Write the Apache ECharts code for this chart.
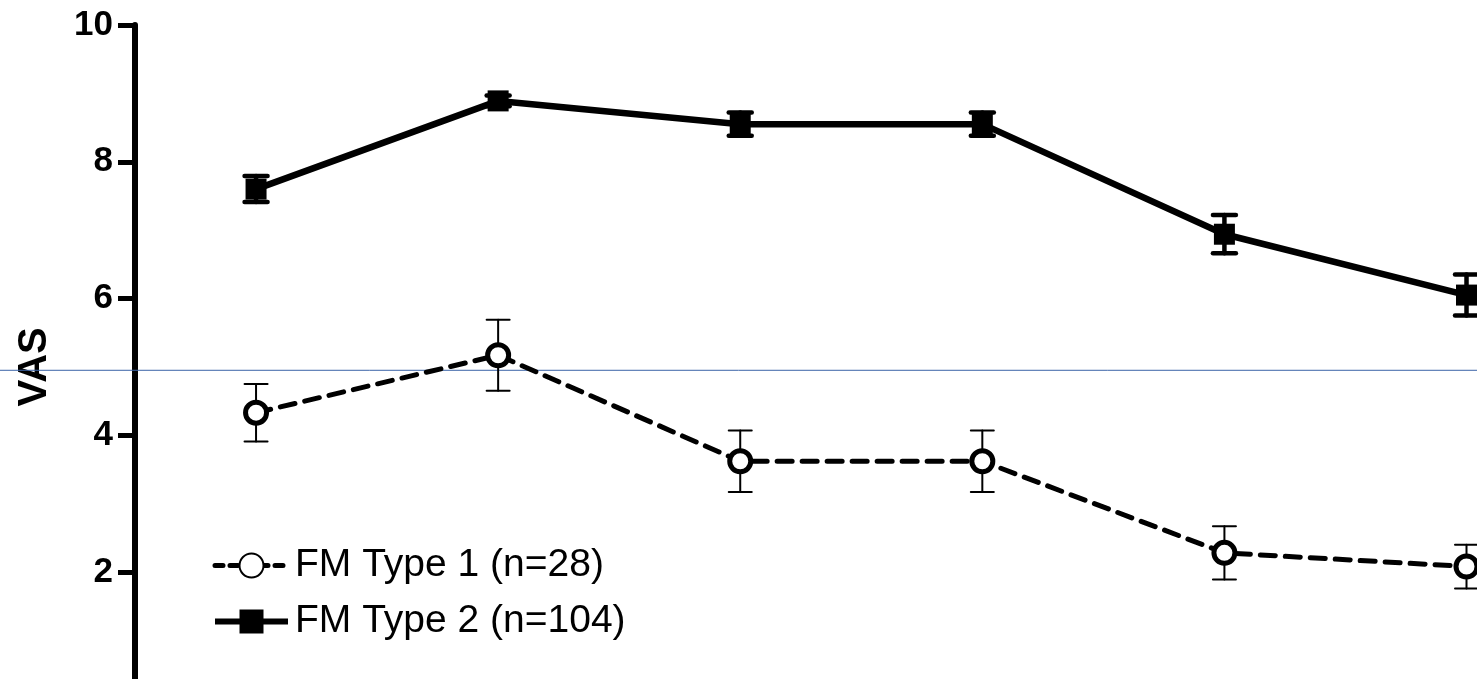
<!DOCTYPE html>
<html>
<head>
<meta charset="utf-8">
<script src="https://cdn.jsdelivr.net/npm/echarts@6/dist/echarts.min.js"></script>
<style>
html,body{margin:0;padding:0;background:#fff;}
#c{width:1477px;height:679px;}
</style>
</head>
<body>
<div id="c"></div>
<script>
// ---- data ----
const timePoints = [1, 2, 3, 4, 5, 6];
const type1Name = 'FM Type 1 (n=28)';
const type2Name = 'FM Type 2 (n=104)';
const type1Mean = [4.33, 5.17, 3.62, 3.62, 2.28, 2.08];
const type1Err  = [0.42, 0.52, 0.45, 0.45, 0.39, 0.32];
const type2Mean = [7.60, 8.89, 8.55, 8.55, 6.94, 6.05];
const type2Err  = [0.19, 0.08, 0.17, 0.17, 0.28, 0.30];
const refLineValue = 4.95;
const yName = 'VAS';

const FONT = '"Liberation Sans", Arial, sans-serif';

function errRender(lw, capW) {
  return function (params, api) {
    const x = api.value(0), y = api.value(1), e = api.value(2);
    const top = api.coord([x, y + e]);
    const bot = api.coord([x, y - e]);
    const hw = capW / 2;
    const st = { stroke: '#000', lineWidth: lw, lineCap: 'round' };
    return {
      type: 'group',
      children: [
        { type: 'line', shape: { x1: top[0], y1: top[1], x2: bot[0], y2: bot[1] }, style: st },
        { type: 'line', shape: { x1: top[0] - hw, y1: top[1], x2: top[0] + hw, y2: top[1] }, style: st },
        { type: 'line', shape: { x1: bot[0] - hw, y1: bot[1], x2: bot[0] + hw, y2: bot[1] }, style: st }
      ]
    };
  };
}

const chart = echarts.init(document.getElementById('c'), null, { renderer: 'canvas' });
chart.setOption({
  animation: false,
  backgroundColor: '#fff',
  textStyle: { fontFamily: FONT },
  grid: { left: 135, right: -231.6, top: 25, bottom: -29.75, containLabel: false, outerBoundsMode: 'none' },
  xAxis: {
    type: 'value', min: 0.5, max: 7, show: false
  },
  yAxis: {
    type: 'value', min: 0, max: 10, interval: 2,
    name: yName, nameLocation: 'middle', nameGap: 80,
    nameTextStyle: { fontFamily: FONT, fontWeight: 'bold', fontSize: 40, color: '#000' },
    axisLine: { show: true, lineStyle: { color: '#000', width: 6 } },
    axisTick: { show: true, length: 17, lineStyle: { color: '#000', width: 5 } },
    axisLabel: { margin: 22, fontFamily: FONT, fontWeight: 'bold', fontSize: 35, color: '#000' },
    splitLine: { show: false }
  },
  legend: {
    orient: 'vertical', left: 207, top: 541,
    data: [
      { name: type1Name, lineStyle: { width: 5, type: [8, 7] } },
      { name: type2Name, lineStyle: { width: 6 } }
    ],
    itemWidth: 73, itemHeight: 30, itemGap: 17,
    textStyle: { fontFamily: FONT, fontSize: 39, color: '#000', lineHeight: 38, padding: [0, 0, 0, 2] }
  },
  series: [
    {
      type: 'custom', z: 2, silent: true,
      renderItem: errRender(2, 23),
      data: timePoints.map((x, i) => [x, type1Mean[i], type1Err[i]])
    },
    {
      type: 'custom', z: 2, silent: true,
      renderItem: errRender(4.5, 23),
      data: timePoints.map((x, i) => [x, type2Mean[i], type2Err[i]])
    },
    {
      name: type1Name, type: 'line', z: 4, clip: false,
      data: timePoints.map((x, i) => [x, type1Mean[i]]),
      symbol: 'circle', symbolSize: 21,
      itemStyle: { color: '#fff', borderColor: '#000', borderWidth: 5 },
      lineStyle: { color: '#000', width: 5, type: [15, 10], cap: 'round' }
    },
    {
      name: type2Name, type: 'line', z: 4, clip: false,
      data: timePoints.map((x, i) => [x, type2Mean[i]]),
      symbol: 'rect', symbolSize: 21,
      itemStyle: { color: '#000', borderColor: '#000', borderWidth: 0 },
      lineStyle: { color: '#000', width: 6.5 }
    }
  ]
});

// thin reference line across the full width, positioned through the y scale
const yRef = chart.convertToPixel({ gridIndex: 0 }, [1, refLineValue])[1];
chart.setOption({
  graphic: [{
    type: 'line', silent: true, z: 1,
    shape: { x1: 0, y1: yRef, x2: 1477, y2: yRef },
    style: { stroke: '#3b64a8', lineWidth: 1 }
  }]
});
</script>
</body>
</html>
